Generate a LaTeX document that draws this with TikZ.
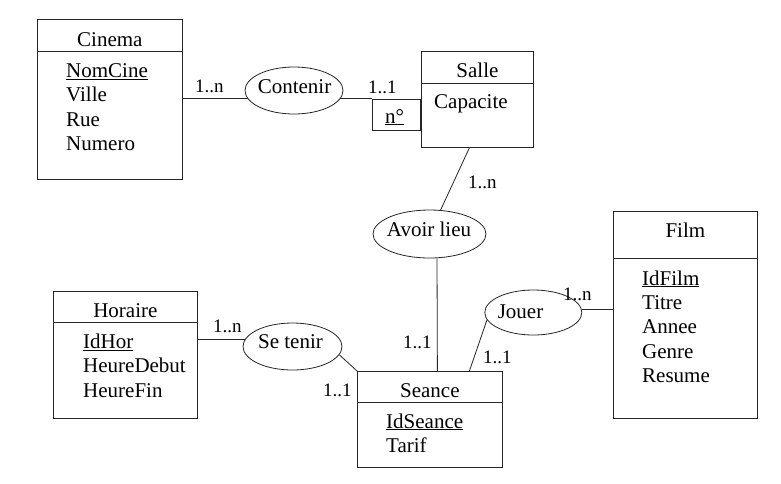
\documentclass[tikz,border=0pt]{standalone}
\usepackage{fontspec}
\setmainfont{Liberation Serif}
\usetikzlibrary{shapes.geometric,calc}
\begin{document}
\begin{tikzpicture}[x=1pt,y=-1pt,
  ln/.style={line width=0.8pt, draw=black!85},
  entbox/.style={ln, rectangle, inner sep=0pt, anchor=north west},
  rel/.style={ln, ellipse, inner sep=0pt},
  txt/.style={inner sep=0pt, anchor=base west, font=\fontsize{21}{24}\selectfont},
  ttl/.style={inner sep=0pt, anchor=base, font=\fontsize{21}{24}\selectfont},
  card/.style={inner sep=0pt, anchor=base west, font=\fontsize{19}{22}\selectfont}]
\useasboundingbox (0,0) rectangle (781,483);
\fill[white] (0,0) rectangle (781,483);

% ---------- Cinema ----------
\node[entbox, minimum width=145pt, minimum height=160pt] (cin) at (37,19) {};
\draw[ln] ([yshift=-32pt]cin.north west) -- ([yshift=-32pt]cin.north east);
\node[ttl] (cinT) at ($(cin.north)+(0,27)$) {Cinema};
\node[txt] (cinA1) at (66,77.5) {\underline{NomCine}};
\node[txt] (cinA2) at (66,101.8) {Ville};
\node[txt] (cinA3) at (66,126.1) {Rue};
\node[txt] (cinA4) at (66,150.4) {Numero};

% ---------- Salle ----------
\node[entbox, minimum width=112pt, minimum height=96pt] (salle) at (421,51) {};
\draw[ln] ([yshift=-32pt]salle.north west) -- ([yshift=-32pt]salle.north east);
\node[ttl] (salleT) at ($(salle.north)+(0,26.3)$) {Salle};
\node[txt] (salleA1) at (434,108.5) {Capacite};

% ---------- Seance ----------
\node[entbox, minimum width=145pt, minimum height=96pt] (seance) at (357,371) {};
\draw[ln] ([yshift=-31pt]seance.north west) -- ([yshift=-31pt]seance.north east);
\node[ttl] (seanceT) at ($(seance.north)+(0,26)$) {Seance};
\node[txt] (seanceA1) at (386,428) {\underline{IdSeance}};
\node[txt] (seanceA2) at (386,452.5) {Tarif};

% ---------- Film ----------
\node[entbox, minimum width=144pt, minimum height=207pt] (film) at (613,211) {};
\draw[ln] ([yshift=-47pt]film.north west) -- ([yshift=-47pt]film.north east);
\node[ttl] (filmT) at ($(film.north)+(0,26.7)$) {Film};
\node[txt] (filmA1) at (642,285) {\underline{IdFilm}};
\node[txt] (filmA2) at (642,309.4) {Titre};
\node[txt] (filmA3) at (642,333.8) {Annee};
\node[txt] (filmA4) at (642,358.2) {Genre};
\node[txt] (filmA5) at (642,382.6) {Resume};

% ---------- Horaire ----------
\node[entbox, minimum width=144pt, minimum height=127pt] (hor) at (53,291) {};
\draw[ln] ([yshift=-31pt]hor.north west) -- ([yshift=-31pt]hor.north east);
\node[ttl] (horT) at ($(hor.north)+(0,26.7)$) {Horaire};
\node[txt] (horA1) at (83,348.3) {\underline{IdHor}};
\node[txt] (horA2) at (83,372.7) {HeureDebut};
\node[txt] (horA3) at (83,397.1) {HeureFin};

% ---------- Relations ----------
\node[rel, minimum width=98pt, minimum height=47pt] (cont) at (294,90.5) {};
\node[ttl] (contT) at (294.5,93.3) {Contenir};
\node[rel, minimum width=113pt, minimum height=48pt] (avoir) at (429.5,234) {};
\node[ttl] (avoirT) at (429,236.7) {Avoir lieu};
\node[rel, minimum width=97pt, minimum height=45pt] (jouer) at (533.3,312.5) {};
\node[ttl] (jouerT) at (520.5,318) {Jouer};
\node[rel, minimum width=99pt, minimum height=47pt] (setenir) at (292.5,346.5) {};
\node[ttl] (setenirT) at (290.5,348.3) {Se tenir};

% n° box attached to Salle
\node[entbox, anchor=north east, minimum width=48pt, minimum height=31.5pt] (num) at (salle.north west |- cont.350) {};
\node[txt] (numT) at (385,123) {\underline{n°}};

% ---------- Connectors ----------
\draw[ln] (cont.190 -| cin.east) -- (cont.190);
\draw[ln] (cont.350) -- (num.north west);
\draw[ln] ($(salle.south)+(-8,0)$) -- (avoir);
\draw[ln] ($(avoir.south)+(7.5,0)$) -- ($(seance.north)+(7.5,0)$);
\draw[ln] (jouer.189) -- ($(seance.north)+(39.5,0)$);
\draw[ln] (jouer.4) -- (jouer.4 -| film.west);
\draw[ln] (hor.east |- setenir.171) -- (setenir.171);
\draw[ln] (setenir.-10) -- (seance.north west);

% ---------- Cardinalities ----------
\node[card] (c1) at (195,92) {1..n};
\node[card] (c2) at (368,93) {1..1};
\node[card] (c3) at (468,188) {1..n};
\node[card] (c4) at (403,348) {1..1};
\node[card] (c5) at (483,363) {1..1};
\node[card] (c6) at (563,300) {1..n};
\node[card] (c7) at (213,332) {1..n};
\node[card] (c8) at (323,396) {1..1};
\end{tikzpicture}
\end{document}
